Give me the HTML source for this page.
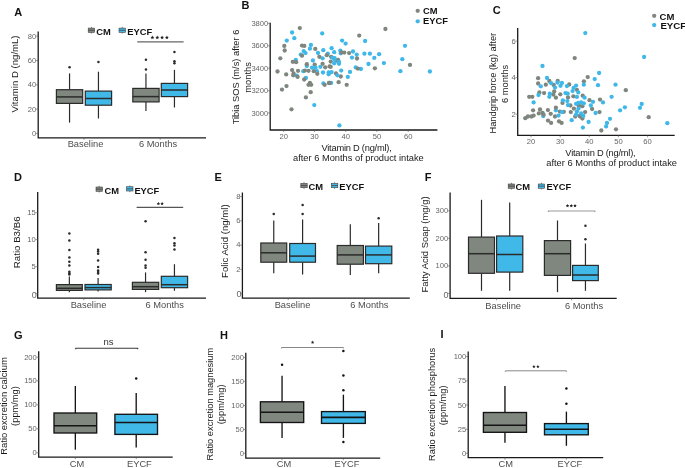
<!DOCTYPE html>
<html><head><meta charset="utf-8"><title>Figure</title>
<style>
html,body{margin:0;padding:0;background:#fff;}
body{width:685px;height:468px;overflow:hidden;}
svg{display:block;font-family:"Liberation Sans", sans-serif;}
#w{will-change:transform;width:685px;height:468px;}
</style></head><body>
<div id="w"><svg width="685" height="468" viewBox="0 0 685 468">
<rect width="685" height="468" fill="#fff"/>
<text x="14.2" y="16" font-size="11" fill="#111" text-anchor="start" font-weight="bold">A</text>
<line x1="91.4" y1="26.9" x2="91.4" y2="28.1" stroke="#444" stroke-width="0.7"/>
<line x1="91.4" y1="32.4" x2="91.4" y2="33.6" stroke="#444" stroke-width="0.7"/>
<rect x="88.2" y="28.1" width="6.4" height="4.3" fill="#7f877e" stroke="#444" stroke-width="0.6"/>
<line x1="88.2" y1="30.25" x2="94.6" y2="30.25" stroke="#444" stroke-width="0.8"/>
<text x="96.2" y="34.6" font-size="9.35" fill="#111" text-anchor="start" font-weight="bold">CM</text>
<line x1="122.2" y1="26.9" x2="122.2" y2="28.1" stroke="#444" stroke-width="0.7"/>
<line x1="122.2" y1="32.4" x2="122.2" y2="33.6" stroke="#444" stroke-width="0.7"/>
<rect x="119" y="28.1" width="6.4" height="4.3" fill="#40b9e8" stroke="#444" stroke-width="0.6"/>
<line x1="119" y1="30.25" x2="125.4" y2="30.25" stroke="#444" stroke-width="0.8"/>
<text x="127.2" y="34.6" font-size="9.35" fill="#111" text-anchor="start" font-weight="bold">EYCF</text>
<line x1="137.2" y1="41.9" x2="183.6" y2="41.9" stroke="#666" stroke-width="1.2"/>
<polygon points="152.4,35.6 152.93,36.87 154.3,36.98 153.26,37.88 153.58,39.22 152.4,38.5 151.22,39.22 151.54,37.88 150.5,36.98 151.87,36.87" fill="#222"/>
<polygon points="157.3,35.6 157.83,36.87 159.2,36.98 158.16,37.88 158.48,39.22 157.3,38.5 156.12,39.22 156.44,37.88 155.4,36.98 156.77,36.87" fill="#222"/>
<polygon points="162.1,35.6 162.63,36.87 164,36.98 162.96,37.88 163.28,39.22 162.1,38.5 160.92,39.22 161.24,37.88 160.2,36.98 161.57,36.87" fill="#222"/>
<polygon points="166.9,35.6 167.43,36.87 168.8,36.98 167.76,37.88 168.08,39.22 166.9,38.5 165.72,39.22 166.04,37.88 165,36.98 166.37,36.87" fill="#222"/>
<path d="M38.2 31.4V137.8H206" fill="none" stroke="#1a1a1a" stroke-width="1.3"/>
<line x1="36" y1="36.1" x2="38.2" y2="36.1" stroke="#555" stroke-width="0.6"/>
<text x="36.3" y="38.61" font-size="7.6" fill="#656565" text-anchor="end" font-weight="normal">80</text>
<line x1="36" y1="60.5" x2="38.2" y2="60.5" stroke="#555" stroke-width="0.6"/>
<text x="36.3" y="63.01" font-size="7.6" fill="#656565" text-anchor="end" font-weight="normal">60</text>
<line x1="36" y1="84.8" x2="38.2" y2="84.8" stroke="#555" stroke-width="0.6"/>
<text x="36.3" y="87.31" font-size="7.6" fill="#656565" text-anchor="end" font-weight="normal">40</text>
<line x1="36" y1="109.1" x2="38.2" y2="109.1" stroke="#555" stroke-width="0.6"/>
<text x="36.3" y="111.61" font-size="7.6" fill="#656565" text-anchor="end" font-weight="normal">20</text>
<line x1="36" y1="133.4" x2="38.2" y2="133.4" stroke="#555" stroke-width="0.6"/>
<text x="36.3" y="135.91" font-size="7.6" fill="#656565" text-anchor="end" font-weight="normal">0</text>
<line x1="84" y1="137.8" x2="84" y2="139.8" stroke="#555" stroke-width="0.6"/>
<line x1="160.2" y1="137.8" x2="160.2" y2="139.8" stroke="#555" stroke-width="0.6"/>
<line x1="69.55" y1="73.4" x2="69.55" y2="89.7" stroke="#2b2b2b" stroke-width="1.2"/>
<line x1="69.55" y1="103.4" x2="69.55" y2="122.6" stroke="#2b2b2b" stroke-width="1.2"/>
<rect x="56.4" y="89.7" width="26.3" height="13.7" fill="#7f877e" stroke="#2b2b2b" stroke-width="1.2"/>
<line x1="56.4" y1="96.9" x2="82.7" y2="96.9" stroke="#2b2b2b" stroke-width="1.5"/>
<circle cx="69.55" cy="67.3" r="1.25" fill="#2b2b2b"/>
<line x1="98.45" y1="71.7" x2="98.45" y2="91.1" stroke="#2b2b2b" stroke-width="1.2"/>
<line x1="98.45" y1="105.2" x2="98.45" y2="118.5" stroke="#2b2b2b" stroke-width="1.2"/>
<rect x="85.3" y="91.1" width="26.3" height="14.1" fill="#40b9e8" stroke="#2b2b2b" stroke-width="1.2"/>
<line x1="85.3" y1="98.5" x2="111.6" y2="98.5" stroke="#2b2b2b" stroke-width="1.5"/>
<circle cx="98.45" cy="62" r="1.25" fill="#2b2b2b"/>
<line x1="145.95" y1="73.4" x2="145.95" y2="88.4" stroke="#2b2b2b" stroke-width="1.2"/>
<line x1="145.95" y1="101.9" x2="145.95" y2="111" stroke="#2b2b2b" stroke-width="1.2"/>
<rect x="132.8" y="88.4" width="26.3" height="13.5" fill="#7f877e" stroke="#2b2b2b" stroke-width="1.2"/>
<line x1="132.8" y1="96.6" x2="159.1" y2="96.6" stroke="#2b2b2b" stroke-width="1.5"/>
<circle cx="145.95" cy="59.8" r="1.25" fill="#2b2b2b"/>
<circle cx="145.95" cy="69.4" r="1.25" fill="#2b2b2b"/>
<line x1="174.45" y1="69.9" x2="174.45" y2="83.4" stroke="#2b2b2b" stroke-width="1.2"/>
<line x1="174.45" y1="96.6" x2="174.45" y2="107.5" stroke="#2b2b2b" stroke-width="1.2"/>
<rect x="161.3" y="83.4" width="26.3" height="13.2" fill="#40b9e8" stroke="#2b2b2b" stroke-width="1.2"/>
<line x1="161.3" y1="90" x2="187.6" y2="90" stroke="#2b2b2b" stroke-width="1.5"/>
<circle cx="174.45" cy="52" r="1.25" fill="#2b2b2b"/>
<circle cx="174.45" cy="61.2" r="1.25" fill="#2b2b2b"/>
<circle cx="174.45" cy="63.2" r="1.25" fill="#2b2b2b"/>
<text x="85.5" y="147.1" font-size="9.3" fill="#4d4d4d" text-anchor="middle" font-weight="normal">Baseline</text>
<text x="158" y="147.1" font-size="9.3" fill="#4d4d4d" text-anchor="middle" font-weight="normal">6 Months</text>
<text transform="translate(18.2 74) rotate(-90)" font-size="9.6" fill="#1a1a1a" text-anchor="middle">Vitamin D (ng/mL)</text>
<text x="241.4" y="8.5" font-size="11" fill="#111" text-anchor="start" font-weight="bold">B</text>
<circle cx="292.1" cy="32.5" r="2.15" fill="#3fb8e9"/>
<circle cx="322.2" cy="33.4" r="2.15" fill="#3fb8e9"/>
<circle cx="294.3" cy="38.2" r="2.15" fill="#3fb8e9"/>
<circle cx="286.8" cy="40.6" r="2.15" fill="#3fb8e9"/>
<circle cx="310.9" cy="45" r="2.15" fill="#3fb8e9"/>
<circle cx="309.9" cy="48.7" r="2.15" fill="#3fb8e9"/>
<circle cx="303.7" cy="51.1" r="2.15" fill="#3fb8e9"/>
<circle cx="305.5" cy="53.1" r="2.15" fill="#3fb8e9"/>
<circle cx="300.8" cy="54.6" r="2.15" fill="#3fb8e9"/>
<circle cx="318" cy="53" r="2.15" fill="#3fb8e9"/>
<circle cx="323.3" cy="50.2" r="2.15" fill="#3fb8e9"/>
<circle cx="327.8" cy="53.7" r="2.15" fill="#3fb8e9"/>
<circle cx="322.6" cy="58.3" r="2.15" fill="#3fb8e9"/>
<circle cx="295.8" cy="59.9" r="2.15" fill="#3fb8e9"/>
<circle cx="312.9" cy="60.5" r="2.15" fill="#3fb8e9"/>
<circle cx="306.8" cy="66" r="2.15" fill="#3fb8e9"/>
<circle cx="320.4" cy="66.8" r="2.15" fill="#3fb8e9"/>
<circle cx="316.9" cy="71.2" r="2.15" fill="#3fb8e9"/>
<circle cx="323" cy="72.5" r="2.15" fill="#3fb8e9"/>
<circle cx="328.7" cy="72.5" r="2.15" fill="#3fb8e9"/>
<circle cx="328.7" cy="74.3" r="2.15" fill="#3fb8e9"/>
<circle cx="303.3" cy="71.2" r="2.15" fill="#3fb8e9"/>
<circle cx="296.7" cy="75.6" r="2.15" fill="#3fb8e9"/>
<circle cx="305.9" cy="78" r="2.15" fill="#3fb8e9"/>
<circle cx="323.4" cy="83.5" r="2.15" fill="#3fb8e9"/>
<circle cx="342.1" cy="40.6" r="2.15" fill="#3fb8e9"/>
<circle cx="345.6" cy="43.6" r="2.15" fill="#3fb8e9"/>
<circle cx="365.1" cy="41" r="2.15" fill="#3fb8e9"/>
<circle cx="331.6" cy="48.2" r="2.15" fill="#3fb8e9"/>
<circle cx="334.2" cy="52.2" r="2.15" fill="#3fb8e9"/>
<circle cx="340.3" cy="50.7" r="2.15" fill="#3fb8e9"/>
<circle cx="340.8" cy="53.3" r="2.15" fill="#3fb8e9"/>
<circle cx="353" cy="51.5" r="2.15" fill="#3fb8e9"/>
<circle cx="356.7" cy="54.6" r="2.15" fill="#3fb8e9"/>
<circle cx="364.4" cy="53.7" r="2.15" fill="#3fb8e9"/>
<circle cx="369.9" cy="53.7" r="2.15" fill="#3fb8e9"/>
<circle cx="379.1" cy="54.2" r="2.15" fill="#3fb8e9"/>
<circle cx="374.3" cy="57.9" r="2.15" fill="#3fb8e9"/>
<circle cx="352" cy="57.6" r="2.15" fill="#3fb8e9"/>
<circle cx="368.5" cy="64" r="2.15" fill="#3fb8e9"/>
<circle cx="383.9" cy="63.1" r="2.15" fill="#3fb8e9"/>
<circle cx="355.7" cy="67.4" r="2.15" fill="#3fb8e9"/>
<circle cx="360.9" cy="69" r="2.15" fill="#3fb8e9"/>
<circle cx="341.2" cy="70.6" r="2.15" fill="#3fb8e9"/>
<circle cx="350" cy="71.9" r="2.15" fill="#3fb8e9"/>
<circle cx="331.6" cy="72.1" r="2.15" fill="#3fb8e9"/>
<circle cx="347.8" cy="76.9" r="2.15" fill="#3fb8e9"/>
<circle cx="331.1" cy="82.9" r="2.15" fill="#3fb8e9"/>
<circle cx="405" cy="45.8" r="2.15" fill="#3fb8e9"/>
<circle cx="402.3" cy="59.2" r="2.15" fill="#3fb8e9"/>
<circle cx="400.4" cy="71.2" r="2.15" fill="#3fb8e9"/>
<circle cx="429.9" cy="71.5" r="2.15" fill="#3fb8e9"/>
<circle cx="314.3" cy="105.1" r="2.15" fill="#3fb8e9"/>
<circle cx="339.4" cy="125.4" r="2.15" fill="#3fb8e9"/>
<circle cx="299.8" cy="28.1" r="2.15" fill="#7e867e"/>
<circle cx="284.3" cy="45.9" r="2.15" fill="#7e867e"/>
<circle cx="284.7" cy="50.5" r="2.15" fill="#7e867e"/>
<circle cx="302" cy="45.6" r="2.15" fill="#7e867e"/>
<circle cx="304.3" cy="45.9" r="2.15" fill="#7e867e"/>
<circle cx="315.3" cy="48.9" r="2.15" fill="#7e867e"/>
<circle cx="302" cy="55.7" r="2.15" fill="#7e867e"/>
<circle cx="280.3" cy="58.3" r="2.15" fill="#7e867e"/>
<circle cx="319.4" cy="56.8" r="2.15" fill="#7e867e"/>
<circle cx="326.8" cy="55.2" r="2.15" fill="#7e867e"/>
<circle cx="292.8" cy="61.8" r="2.15" fill="#7e867e"/>
<circle cx="296.1" cy="62.2" r="2.15" fill="#7e867e"/>
<circle cx="306.8" cy="64.2" r="2.15" fill="#7e867e"/>
<circle cx="314.7" cy="64.6" r="2.15" fill="#7e867e"/>
<circle cx="322.6" cy="63.8" r="2.15" fill="#7e867e"/>
<circle cx="325.2" cy="67.3" r="2.15" fill="#7e867e"/>
<circle cx="329.6" cy="66.4" r="2.15" fill="#7e867e"/>
<circle cx="277.5" cy="71.5" r="2.15" fill="#7e867e"/>
<circle cx="286.2" cy="74.4" r="2.15" fill="#7e867e"/>
<circle cx="292.1" cy="70.1" r="2.15" fill="#7e867e"/>
<circle cx="293.6" cy="73.4" r="2.15" fill="#7e867e"/>
<circle cx="293.2" cy="75.3" r="2.15" fill="#7e867e"/>
<circle cx="298" cy="70.8" r="2.15" fill="#7e867e"/>
<circle cx="297.6" cy="76.9" r="2.15" fill="#7e867e"/>
<circle cx="304.9" cy="70.6" r="2.15" fill="#7e867e"/>
<circle cx="308.5" cy="70.8" r="2.15" fill="#7e867e"/>
<circle cx="313.8" cy="71.2" r="2.15" fill="#7e867e"/>
<circle cx="317.3" cy="73.8" r="2.15" fill="#7e867e"/>
<circle cx="304.2" cy="79.5" r="2.15" fill="#7e867e"/>
<circle cx="309.9" cy="83" r="2.15" fill="#7e867e"/>
<circle cx="308.5" cy="84.8" r="2.15" fill="#7e867e"/>
<circle cx="311.2" cy="84.8" r="2.15" fill="#7e867e"/>
<circle cx="324.7" cy="84.8" r="2.15" fill="#7e867e"/>
<circle cx="329.6" cy="83" r="2.15" fill="#7e867e"/>
<circle cx="286.5" cy="86.1" r="2.15" fill="#7e867e"/>
<circle cx="282" cy="89.6" r="2.15" fill="#7e867e"/>
<circle cx="310.7" cy="92.2" r="2.15" fill="#7e867e"/>
<circle cx="359.2" cy="35.6" r="2.15" fill="#7e867e"/>
<circle cx="385.4" cy="29" r="2.15" fill="#7e867e"/>
<circle cx="341.6" cy="52.4" r="2.15" fill="#7e867e"/>
<circle cx="344.3" cy="52.6" r="2.15" fill="#7e867e"/>
<circle cx="349.1" cy="53.1" r="2.15" fill="#7e867e"/>
<circle cx="357" cy="58.5" r="2.15" fill="#7e867e"/>
<circle cx="338.1" cy="59.9" r="2.15" fill="#7e867e"/>
<circle cx="331.1" cy="56.8" r="2.15" fill="#7e867e"/>
<circle cx="336.8" cy="60.7" r="2.15" fill="#7e867e"/>
<circle cx="330.7" cy="61.6" r="2.15" fill="#7e867e"/>
<circle cx="330.7" cy="66.8" r="2.15" fill="#7e867e"/>
<circle cx="357.8" cy="68.6" r="2.15" fill="#7e867e"/>
<circle cx="374.9" cy="68.3" r="2.15" fill="#7e867e"/>
<circle cx="336" cy="73.4" r="2.15" fill="#7e867e"/>
<circle cx="340.8" cy="76.5" r="2.15" fill="#7e867e"/>
<circle cx="338.6" cy="82.2" r="2.15" fill="#7e867e"/>
<circle cx="328.9" cy="83" r="2.15" fill="#7e867e"/>
<circle cx="346.7" cy="84.8" r="2.15" fill="#7e867e"/>
<circle cx="410" cy="64.9" r="2.15" fill="#7e867e"/>
<circle cx="305.9" cy="97.4" r="2.15" fill="#7e867e"/>
<circle cx="291.5" cy="109.3" r="2.15" fill="#7e867e"/>
<circle cx="332.4" cy="57.7" r="2.15" fill="#3fb8e9"/>
<circle cx="334.6" cy="58.1" r="2.15" fill="#3fb8e9"/>
<circle cx="334.6" cy="59.8" r="2.15" fill="#3fb8e9"/>
<circle cx="339" cy="62" r="2.15" fill="#3fb8e9"/>
<circle cx="334.2" cy="63.3" r="2.15" fill="#3fb8e9"/>
<circle cx="339" cy="63.8" r="2.15" fill="#3fb8e9"/>
<circle cx="337.3" cy="75.3" r="2.15" fill="#3fb8e9"/>
<circle cx="312" cy="67.7" r="2.15" fill="#3fb8e9"/>
<circle cx="315.5" cy="67.7" r="2.15" fill="#3fb8e9"/>
<path d="M270.2 22.8V130H437.4" fill="none" stroke="#1a1a1a" stroke-width="1.3"/>
<line x1="268" y1="23.3" x2="270.2" y2="23.3" stroke="#555" stroke-width="0.6"/>
<text x="268.3" y="25.81" font-size="7.6" fill="#656565" text-anchor="end" font-weight="normal">3800</text>
<line x1="268" y1="45.8" x2="270.2" y2="45.8" stroke="#555" stroke-width="0.6"/>
<text x="268.3" y="48.31" font-size="7.6" fill="#656565" text-anchor="end" font-weight="normal">3600</text>
<line x1="268" y1="68.2" x2="270.2" y2="68.2" stroke="#555" stroke-width="0.6"/>
<text x="268.3" y="70.71" font-size="7.6" fill="#656565" text-anchor="end" font-weight="normal">3400</text>
<line x1="268" y1="90.7" x2="270.2" y2="90.7" stroke="#555" stroke-width="0.6"/>
<text x="268.3" y="93.21" font-size="7.6" fill="#656565" text-anchor="end" font-weight="normal">3200</text>
<line x1="268" y1="113" x2="270.2" y2="113" stroke="#555" stroke-width="0.6"/>
<text x="268.3" y="115.51" font-size="7.6" fill="#656565" text-anchor="end" font-weight="normal">3000</text>
<line x1="283.7" y1="130" x2="283.7" y2="132" stroke="#555" stroke-width="0.6"/>
<text x="283.7" y="138.8" font-size="7.6" fill="#656565" text-anchor="middle" font-weight="normal">20</text>
<line x1="314.6" y1="130" x2="314.6" y2="132" stroke="#555" stroke-width="0.6"/>
<text x="314.6" y="138.8" font-size="7.6" fill="#656565" text-anchor="middle" font-weight="normal">30</text>
<line x1="345.8" y1="130" x2="345.8" y2="132" stroke="#555" stroke-width="0.6"/>
<text x="345.8" y="138.8" font-size="7.6" fill="#656565" text-anchor="middle" font-weight="normal">40</text>
<line x1="376.9" y1="130" x2="376.9" y2="132" stroke="#555" stroke-width="0.6"/>
<text x="376.9" y="138.8" font-size="7.6" fill="#656565" text-anchor="middle" font-weight="normal">50</text>
<line x1="408.2" y1="130" x2="408.2" y2="132" stroke="#555" stroke-width="0.6"/>
<text x="408.2" y="138.8" font-size="7.6" fill="#656565" text-anchor="middle" font-weight="normal">60</text>
<circle cx="417.7" cy="10.8" r="2.15" fill="#7e867e"/>
<circle cx="417.7" cy="21.3" r="2.15" fill="#3fb8e9"/>
<text x="423" y="14.4" font-size="9.35" fill="#111" text-anchor="start" font-weight="bold">CM</text>
<text x="423" y="23.9" font-size="9.35" fill="#111" text-anchor="start" font-weight="bold">EYCF</text>
<text x="356.5" y="150.9" font-size="9.3" fill="#1a1a1a" text-anchor="middle" font-weight="normal" letter-spacing="-0.23">Vitamin D (ng/ml),</text>
<text x="358.4" y="160.9" font-size="9.3" fill="#1a1a1a" text-anchor="middle" font-weight="normal">after 6 Months of product intake</text>
<text transform="translate(239 77) rotate(-90)" font-size="9.3" fill="#1a1a1a" text-anchor="middle">Tibia SOS (m/s) after 6</text>
<text transform="translate(250.6 77.4) rotate(-90)" font-size="9.3" fill="#1a1a1a" text-anchor="middle">months</text>
<text x="492.8" y="13.8" font-size="11" fill="#111" text-anchor="start" font-weight="bold">C</text>
<circle cx="543.2" cy="116" r="2.15" fill="#3fb8e9"/>
<circle cx="555.9" cy="110.3" r="2.15" fill="#3fb8e9"/>
<circle cx="574.7" cy="58.1" r="2.15" fill="#7e867e"/>
<circle cx="538.1" cy="78.2" r="2.15" fill="#7e867e"/>
<circle cx="538.1" cy="83.5" r="2.15" fill="#7e867e"/>
<circle cx="545.8" cy="84.7" r="2.15" fill="#7e867e"/>
<circle cx="549.3" cy="81" r="2.15" fill="#7e867e"/>
<circle cx="553.7" cy="85" r="2.15" fill="#7e867e"/>
<circle cx="557.7" cy="81" r="2.15" fill="#7e867e"/>
<circle cx="569.2" cy="84.5" r="2.15" fill="#7e867e"/>
<circle cx="576.9" cy="89.8" r="2.15" fill="#7e867e"/>
<circle cx="539.4" cy="92.4" r="2.15" fill="#7e867e"/>
<circle cx="544.1" cy="93.1" r="2.15" fill="#7e867e"/>
<circle cx="554.2" cy="91.5" r="2.15" fill="#7e867e"/>
<circle cx="553.3" cy="94.6" r="2.15" fill="#7e867e"/>
<circle cx="555.9" cy="97.7" r="2.15" fill="#7e867e"/>
<circle cx="560.3" cy="94.3" r="2.15" fill="#7e867e"/>
<circle cx="568" cy="97.5" r="2.15" fill="#7e867e"/>
<circle cx="573.4" cy="96.3" r="2.15" fill="#7e867e"/>
<circle cx="529.2" cy="96.8" r="2.15" fill="#7e867e"/>
<circle cx="532.3" cy="96.8" r="2.15" fill="#7e867e"/>
<circle cx="562.5" cy="102.9" r="2.15" fill="#7e867e"/>
<circle cx="533.1" cy="110.3" r="2.15" fill="#7e867e"/>
<circle cx="540" cy="109.5" r="2.15" fill="#7e867e"/>
<circle cx="538.8" cy="113.4" r="2.15" fill="#7e867e"/>
<circle cx="542.6" cy="113" r="2.15" fill="#7e867e"/>
<circle cx="543.6" cy="114.7" r="2.15" fill="#7e867e"/>
<circle cx="547.9" cy="110.1" r="2.15" fill="#7e867e"/>
<circle cx="550.7" cy="113.8" r="2.15" fill="#7e867e"/>
<circle cx="555.9" cy="107.7" r="2.15" fill="#7e867e"/>
<circle cx="555" cy="116.5" r="2.15" fill="#7e867e"/>
<circle cx="559.9" cy="111.6" r="2.15" fill="#7e867e"/>
<circle cx="563.8" cy="111.8" r="2.15" fill="#7e867e"/>
<circle cx="570.8" cy="112.1" r="2.15" fill="#7e867e"/>
<circle cx="570.4" cy="105.5" r="2.15" fill="#7e867e"/>
<circle cx="573.9" cy="108.6" r="2.15" fill="#7e867e"/>
<circle cx="575.2" cy="116.5" r="2.15" fill="#7e867e"/>
<circle cx="525.3" cy="118.2" r="2.15" fill="#7e867e"/>
<circle cx="527.9" cy="116.5" r="2.15" fill="#7e867e"/>
<circle cx="531.4" cy="116.5" r="2.15" fill="#7e867e"/>
<circle cx="533.6" cy="115.6" r="2.15" fill="#7e867e"/>
<circle cx="548" cy="120.6" r="2.15" fill="#7e867e"/>
<circle cx="551.1" cy="122.9" r="2.15" fill="#7e867e"/>
<circle cx="559" cy="121.3" r="2.15" fill="#7e867e"/>
<circle cx="561.6" cy="122.9" r="2.15" fill="#7e867e"/>
<circle cx="578.7" cy="105.5" r="2.15" fill="#7e867e"/>
<circle cx="579.6" cy="116" r="2.15" fill="#7e867e"/>
<circle cx="587.7" cy="77.1" r="2.15" fill="#7e867e"/>
<circle cx="583.9" cy="81.3" r="2.15" fill="#7e867e"/>
<circle cx="582.7" cy="95.7" r="2.15" fill="#7e867e"/>
<circle cx="589.5" cy="100.2" r="2.15" fill="#7e867e"/>
<circle cx="600" cy="99.6" r="2.15" fill="#7e867e"/>
<circle cx="625.8" cy="90.2" r="2.15" fill="#7e867e"/>
<circle cx="578.9" cy="106" r="2.15" fill="#7e867e"/>
<circle cx="582.4" cy="106.2" r="2.15" fill="#7e867e"/>
<circle cx="592.1" cy="109" r="2.15" fill="#7e867e"/>
<circle cx="585.1" cy="112.1" r="2.15" fill="#7e867e"/>
<circle cx="599.5" cy="112.1" r="2.15" fill="#7e867e"/>
<circle cx="580.3" cy="116.5" r="2.15" fill="#7e867e"/>
<circle cx="582.4" cy="118.6" r="2.15" fill="#7e867e"/>
<circle cx="601.3" cy="130.5" r="2.15" fill="#7e867e"/>
<circle cx="616" cy="129.3" r="2.15" fill="#7e867e"/>
<circle cx="648.7" cy="117.2" r="2.15" fill="#7e867e"/>
<circle cx="542.5" cy="66" r="2.15" fill="#3fb8e9"/>
<circle cx="547" cy="78" r="2.15" fill="#3fb8e9"/>
<circle cx="540.8" cy="86.3" r="2.15" fill="#3fb8e9"/>
<circle cx="551.1" cy="83.2" r="2.15" fill="#3fb8e9"/>
<circle cx="555" cy="87.6" r="2.15" fill="#3fb8e9"/>
<circle cx="557.5" cy="82.6" r="2.15" fill="#3fb8e9"/>
<circle cx="561.9" cy="83" r="2.15" fill="#3fb8e9"/>
<circle cx="560.5" cy="85.8" r="2.15" fill="#3fb8e9"/>
<circle cx="566.9" cy="86.1" r="2.15" fill="#3fb8e9"/>
<circle cx="576.1" cy="85.6" r="2.15" fill="#3fb8e9"/>
<circle cx="573.6" cy="87.9" r="2.15" fill="#3fb8e9"/>
<circle cx="572.6" cy="91.1" r="2.15" fill="#3fb8e9"/>
<circle cx="578.3" cy="92.4" r="2.15" fill="#3fb8e9"/>
<circle cx="576.9" cy="96.9" r="2.15" fill="#3fb8e9"/>
<circle cx="538.5" cy="95" r="2.15" fill="#3fb8e9"/>
<circle cx="549.8" cy="93.7" r="2.15" fill="#3fb8e9"/>
<circle cx="549.3" cy="96.8" r="2.15" fill="#3fb8e9"/>
<circle cx="565.5" cy="93.1" r="2.15" fill="#3fb8e9"/>
<circle cx="567.7" cy="93.7" r="2.15" fill="#3fb8e9"/>
<circle cx="562.9" cy="100.3" r="2.15" fill="#3fb8e9"/>
<circle cx="533.6" cy="102.4" r="2.15" fill="#3fb8e9"/>
<circle cx="567.3" cy="101.1" r="2.15" fill="#3fb8e9"/>
<circle cx="568" cy="105.1" r="2.15" fill="#3fb8e9"/>
<circle cx="576.1" cy="103.8" r="2.15" fill="#3fb8e9"/>
<circle cx="578.2" cy="102.9" r="2.15" fill="#3fb8e9"/>
<circle cx="576.9" cy="111.6" r="2.15" fill="#3fb8e9"/>
<circle cx="576.1" cy="114.7" r="2.15" fill="#3fb8e9"/>
<circle cx="571.7" cy="120.2" r="2.15" fill="#3fb8e9"/>
<circle cx="558.5" cy="115.6" r="2.15" fill="#3fb8e9"/>
<circle cx="562" cy="112.1" r="2.15" fill="#3fb8e9"/>
<circle cx="585.3" cy="33.1" r="2.15" fill="#3fb8e9"/>
<circle cx="599.1" cy="73" r="2.15" fill="#3fb8e9"/>
<circle cx="594.7" cy="79.1" r="2.15" fill="#3fb8e9"/>
<circle cx="583.8" cy="84.7" r="2.15" fill="#3fb8e9"/>
<circle cx="598" cy="85.2" r="2.15" fill="#3fb8e9"/>
<circle cx="615.5" cy="84.7" r="2.15" fill="#3fb8e9"/>
<circle cx="584.6" cy="97.7" r="2.15" fill="#3fb8e9"/>
<circle cx="611.6" cy="96.8" r="2.15" fill="#3fb8e9"/>
<circle cx="593" cy="101.8" r="2.15" fill="#3fb8e9"/>
<circle cx="603" cy="102.4" r="2.15" fill="#3fb8e9"/>
<circle cx="590.8" cy="105.5" r="2.15" fill="#3fb8e9"/>
<circle cx="581.1" cy="102.4" r="2.15" fill="#3fb8e9"/>
<circle cx="583.8" cy="103.3" r="2.15" fill="#3fb8e9"/>
<circle cx="578.5" cy="108.6" r="2.15" fill="#3fb8e9"/>
<circle cx="581.1" cy="113.4" r="2.15" fill="#3fb8e9"/>
<circle cx="583.3" cy="116" r="2.15" fill="#3fb8e9"/>
<circle cx="595.6" cy="113" r="2.15" fill="#3fb8e9"/>
<circle cx="620.1" cy="110.3" r="2.15" fill="#3fb8e9"/>
<circle cx="624.9" cy="107.3" r="2.15" fill="#3fb8e9"/>
<circle cx="610" cy="118.8" r="2.15" fill="#3fb8e9"/>
<circle cx="607" cy="123" r="2.15" fill="#3fb8e9"/>
<circle cx="606.1" cy="126.4" r="2.15" fill="#3fb8e9"/>
<circle cx="588.6" cy="122" r="2.15" fill="#3fb8e9"/>
<circle cx="582.9" cy="127.6" r="2.15" fill="#3fb8e9"/>
<circle cx="644.1" cy="57" r="2.15" fill="#3fb8e9"/>
<circle cx="641.7" cy="104" r="2.15" fill="#3fb8e9"/>
<circle cx="640" cy="107.8" r="2.15" fill="#3fb8e9"/>
<circle cx="667.3" cy="123.2" r="2.15" fill="#3fb8e9"/>
<path d="M517.7 28V135.3H674.7" fill="none" stroke="#1a1a1a" stroke-width="1.3"/>
<line x1="515.5" y1="41" x2="517.7" y2="41" stroke="#555" stroke-width="0.6"/>
<text x="515.8" y="43.51" font-size="7.6" fill="#656565" text-anchor="end" font-weight="normal">6</text>
<line x1="515.5" y1="77.6" x2="517.7" y2="77.6" stroke="#555" stroke-width="0.6"/>
<text x="515.8" y="80.11" font-size="7.6" fill="#656565" text-anchor="end" font-weight="normal">4</text>
<line x1="515.5" y1="114.2" x2="517.7" y2="114.2" stroke="#555" stroke-width="0.6"/>
<text x="515.8" y="116.71" font-size="7.6" fill="#656565" text-anchor="end" font-weight="normal">2</text>
<line x1="531" y1="135.3" x2="531" y2="137.3" stroke="#555" stroke-width="0.6"/>
<text x="531" y="144.3" font-size="7.6" fill="#656565" text-anchor="middle" font-weight="normal">20</text>
<line x1="560.2" y1="135.3" x2="560.2" y2="137.3" stroke="#555" stroke-width="0.6"/>
<text x="560.2" y="144.3" font-size="7.6" fill="#656565" text-anchor="middle" font-weight="normal">30</text>
<line x1="589.2" y1="135.3" x2="589.2" y2="137.3" stroke="#555" stroke-width="0.6"/>
<text x="589.2" y="144.3" font-size="7.6" fill="#656565" text-anchor="middle" font-weight="normal">40</text>
<line x1="618.4" y1="135.3" x2="618.4" y2="137.3" stroke="#555" stroke-width="0.6"/>
<text x="618.4" y="144.3" font-size="7.6" fill="#656565" text-anchor="middle" font-weight="normal">50</text>
<line x1="647.6" y1="135.3" x2="647.6" y2="137.3" stroke="#555" stroke-width="0.6"/>
<text x="647.6" y="144.3" font-size="7.6" fill="#656565" text-anchor="middle" font-weight="normal">60</text>
<circle cx="654.2" cy="15.8" r="2.15" fill="#7e867e"/>
<circle cx="654.2" cy="25.1" r="2.15" fill="#3fb8e9"/>
<text x="659.6" y="20.3" font-size="9.5" fill="#111" text-anchor="start" font-weight="bold">CM</text>
<text x="660.4" y="28.6" font-size="9.7" fill="#111" text-anchor="start" font-weight="bold">EYCF</text>
<text x="600.4" y="156.2" font-size="9.3" fill="#1a1a1a" text-anchor="middle" font-weight="normal" letter-spacing="-0.23">Vitamin D (ng/ml),</text>
<text x="611.6" y="166.1" font-size="9.3" fill="#1a1a1a" text-anchor="middle" font-weight="normal">after 6 Months of product intake</text>
<text transform="translate(496.2 83.2) rotate(-90)" font-size="9.3" fill="#1a1a1a" text-anchor="middle">Handgrip force (kg) after</text>
<text transform="translate(508.2 83.9) rotate(-90)" font-size="9.3" fill="#1a1a1a" text-anchor="middle">6 months</text>
<text x="14" y="181.1" font-size="11" fill="#111" text-anchor="start" font-weight="bold">D</text>
<line x1="99.2" y1="185.8" x2="99.2" y2="187" stroke="#444" stroke-width="0.7"/>
<line x1="99.2" y1="191.3" x2="99.2" y2="192.5" stroke="#444" stroke-width="0.7"/>
<rect x="96" y="187" width="6.4" height="4.3" fill="#7f877e" stroke="#444" stroke-width="0.6"/>
<line x1="96" y1="189.15" x2="102.4" y2="189.15" stroke="#444" stroke-width="0.8"/>
<text x="104.4" y="193.6" font-size="9.35" fill="#111" text-anchor="start" font-weight="bold">CM</text>
<line x1="129.8" y1="185.5" x2="129.8" y2="186.7" stroke="#444" stroke-width="0.7"/>
<line x1="129.8" y1="191" x2="129.8" y2="192.2" stroke="#444" stroke-width="0.7"/>
<rect x="126.6" y="186.7" width="6.4" height="4.3" fill="#40b9e8" stroke="#444" stroke-width="0.6"/>
<line x1="126.6" y1="188.85" x2="133" y2="188.85" stroke="#444" stroke-width="0.8"/>
<text x="134.4" y="193.6" font-size="9.35" fill="#111" text-anchor="start" font-weight="bold">EYCF</text>
<line x1="136.6" y1="207.4" x2="183.2" y2="207.4" stroke="#555" stroke-width="1.2"/>
<polygon points="158.4,201.7 158.9,202.91 160.21,203.01 159.21,203.86 159.52,205.14 158.4,204.45 157.28,205.14 157.59,203.86 156.59,203.01 157.9,202.91" fill="#222"/>
<polygon points="162.1,201.7 162.6,202.91 163.91,203.01 162.91,203.86 163.22,205.14 162.1,204.45 160.98,205.14 161.29,203.86 160.29,203.01 161.6,202.91" fill="#222"/>
<path d="M37.7 191.9V298.2H206" fill="none" stroke="#1a1a1a" stroke-width="1.3"/>
<line x1="35.5" y1="212.6" x2="37.7" y2="212.6" stroke="#555" stroke-width="0.6"/>
<text x="35.8" y="215.11" font-size="7.6" fill="#656565" text-anchor="end" font-weight="normal">15</text>
<line x1="35.5" y1="239.6" x2="37.7" y2="239.6" stroke="#555" stroke-width="0.6"/>
<text x="35.8" y="242.11" font-size="7.6" fill="#656565" text-anchor="end" font-weight="normal">10</text>
<line x1="35.5" y1="266.6" x2="37.7" y2="266.6" stroke="#555" stroke-width="0.6"/>
<text x="35.8" y="269.11" font-size="7.6" fill="#656565" text-anchor="end" font-weight="normal">5</text>
<text x="36.7" y="297.6" font-size="9" fill="#656565" text-anchor="end" font-weight="normal">0</text>
<line x1="35.5" y1="293.6" x2="37.7" y2="293.6" stroke="#555" stroke-width="0.6"/>
<line x1="69.35" y1="276.6" x2="69.35" y2="284.6" stroke="#2b2b2b" stroke-width="1.2"/>
<line x1="69.35" y1="290.4" x2="69.35" y2="292.3" stroke="#2b2b2b" stroke-width="1.2"/>
<rect x="56.4" y="284.6" width="25.9" height="5.8" fill="#7f877e" stroke="#2b2b2b" stroke-width="1.2"/>
<line x1="56.4" y1="288.3" x2="82.3" y2="288.3" stroke="#2b2b2b" stroke-width="1.5"/>
<circle cx="69.35" cy="233.5" r="1.25" fill="#2b2b2b"/>
<circle cx="69.35" cy="240.4" r="1.25" fill="#2b2b2b"/>
<circle cx="69.35" cy="250" r="1.25" fill="#2b2b2b"/>
<circle cx="69.35" cy="257.6" r="1.25" fill="#2b2b2b"/>
<circle cx="69.35" cy="261.7" r="1.25" fill="#2b2b2b"/>
<circle cx="69.35" cy="265.4" r="1.25" fill="#2b2b2b"/>
<circle cx="69.35" cy="271.7" r="1.25" fill="#2b2b2b"/>
<circle cx="69.35" cy="273.2" r="1.25" fill="#2b2b2b"/>
<circle cx="69.35" cy="274.4" r="1.25" fill="#2b2b2b"/>
<line x1="98.1" y1="278.1" x2="98.1" y2="284.5" stroke="#2b2b2b" stroke-width="1.2"/>
<line x1="98.1" y1="289.9" x2="98.1" y2="291.6" stroke="#2b2b2b" stroke-width="1.2"/>
<rect x="85" y="284.5" width="26.2" height="5.4" fill="#40b9e8" stroke="#2b2b2b" stroke-width="1.2"/>
<line x1="85" y1="287.6" x2="111.2" y2="287.6" stroke="#2b2b2b" stroke-width="1.5"/>
<circle cx="98.1" cy="249.7" r="1.25" fill="#2b2b2b"/>
<circle cx="98.1" cy="251.6" r="1.25" fill="#2b2b2b"/>
<circle cx="98.1" cy="253.7" r="1.25" fill="#2b2b2b"/>
<circle cx="98.1" cy="260.6" r="1.25" fill="#2b2b2b"/>
<circle cx="98.1" cy="266.9" r="1.25" fill="#2b2b2b"/>
<circle cx="98.1" cy="270.6" r="1.25" fill="#2b2b2b"/>
<circle cx="98.1" cy="272.1" r="1.25" fill="#2b2b2b"/>
<circle cx="98.1" cy="273.6" r="1.25" fill="#2b2b2b"/>
<line x1="145.55" y1="272.4" x2="145.55" y2="282.3" stroke="#2b2b2b" stroke-width="1.2"/>
<line x1="145.55" y1="289.4" x2="145.55" y2="292.2" stroke="#2b2b2b" stroke-width="1.2"/>
<rect x="132.4" y="282.3" width="26.3" height="7.1" fill="#7f877e" stroke="#2b2b2b" stroke-width="1.2"/>
<line x1="132.4" y1="286.7" x2="158.7" y2="286.7" stroke="#2b2b2b" stroke-width="1.5"/>
<circle cx="145.55" cy="221.2" r="1.25" fill="#2b2b2b"/>
<circle cx="145.55" cy="252.3" r="1.25" fill="#2b2b2b"/>
<circle cx="145.55" cy="259.8" r="1.25" fill="#2b2b2b"/>
<circle cx="145.55" cy="265.4" r="1.25" fill="#2b2b2b"/>
<circle cx="145.55" cy="267.7" r="1.25" fill="#2b2b2b"/>
<line x1="174.45" y1="264.2" x2="174.45" y2="276.3" stroke="#2b2b2b" stroke-width="1.2"/>
<line x1="174.45" y1="287.7" x2="174.45" y2="290.8" stroke="#2b2b2b" stroke-width="1.2"/>
<rect x="161.3" y="276.3" width="26.3" height="11.4" fill="#40b9e8" stroke="#2b2b2b" stroke-width="1.2"/>
<line x1="161.3" y1="284.7" x2="187.6" y2="284.7" stroke="#2b2b2b" stroke-width="1.5"/>
<circle cx="174.45" cy="238" r="1.25" fill="#2b2b2b"/>
<circle cx="174.45" cy="243.2" r="1.25" fill="#2b2b2b"/>
<circle cx="174.45" cy="245.6" r="1.25" fill="#2b2b2b"/>
<circle cx="174.45" cy="249.6" r="1.25" fill="#2b2b2b"/>
<line x1="83.8" y1="298.2" x2="83.8" y2="300.2" stroke="#555" stroke-width="0.6"/>
<line x1="160" y1="298.2" x2="160" y2="300.2" stroke="#555" stroke-width="0.6"/>
<text x="88.5" y="307.7" font-size="9.3" fill="#4d4d4d" text-anchor="middle" font-weight="normal">Baseline</text>
<text x="164.7" y="307.7" font-size="9.3" fill="#4d4d4d" text-anchor="middle" font-weight="normal">6 Months</text>
<text transform="translate(20.4 242.3) rotate(-90)" font-size="9.7" fill="#1a1a1a" text-anchor="middle">Ratio B3/B6</text>
<text x="214.6" y="181" font-size="11" fill="#111" text-anchor="start" font-weight="bold">E</text>
<line x1="304" y1="182.2" x2="304" y2="183.4" stroke="#444" stroke-width="0.7"/>
<line x1="304" y1="187.7" x2="304" y2="188.9" stroke="#444" stroke-width="0.7"/>
<rect x="300.8" y="183.4" width="6.4" height="4.3" fill="#7f877e" stroke="#444" stroke-width="0.6"/>
<line x1="300.8" y1="185.55" x2="307.2" y2="185.55" stroke="#444" stroke-width="0.8"/>
<text x="308.5" y="189.5" font-size="9.35" fill="#111" text-anchor="start" font-weight="bold">CM</text>
<line x1="334.6" y1="182.2" x2="334.6" y2="183.4" stroke="#444" stroke-width="0.7"/>
<line x1="334.6" y1="187.7" x2="334.6" y2="188.9" stroke="#444" stroke-width="0.7"/>
<rect x="331.4" y="183.4" width="6.4" height="4.3" fill="#40b9e8" stroke="#444" stroke-width="0.6"/>
<line x1="331.4" y1="185.55" x2="337.8" y2="185.55" stroke="#444" stroke-width="0.8"/>
<text x="339.2" y="189.5" font-size="9.35" fill="#111" text-anchor="start" font-weight="bold">EYCF</text>
<path d="M242.4 192.4V298.2H409.8" fill="none" stroke="#1a1a1a" stroke-width="1.3"/>
<line x1="240.2" y1="196.5" x2="242.4" y2="196.5" stroke="#555" stroke-width="0.6"/>
<text x="240.5" y="198.61" font-size="7.6" fill="#656565" text-anchor="end" font-weight="normal">8</text>
<line x1="240.2" y1="220.8" x2="242.4" y2="220.8" stroke="#555" stroke-width="0.6"/>
<text x="240.5" y="222.91" font-size="7.6" fill="#656565" text-anchor="end" font-weight="normal">6</text>
<line x1="240.2" y1="245.1" x2="242.4" y2="245.1" stroke="#555" stroke-width="0.6"/>
<text x="240.5" y="247.21" font-size="7.6" fill="#656565" text-anchor="end" font-weight="normal">4</text>
<line x1="240.2" y1="269.4" x2="242.4" y2="269.4" stroke="#555" stroke-width="0.6"/>
<text x="240.5" y="271.51" font-size="7.6" fill="#656565" text-anchor="end" font-weight="normal">2</text>
<text x="241.4" y="297.2" font-size="9" fill="#656565" text-anchor="end" font-weight="normal">0</text>
<line x1="240.2" y1="293.7" x2="242.4" y2="293.7" stroke="#555" stroke-width="0.6"/>
<line x1="273.75" y1="220.5" x2="273.75" y2="243" stroke="#2b2b2b" stroke-width="1.2"/>
<line x1="273.75" y1="262.2" x2="273.75" y2="273.3" stroke="#2b2b2b" stroke-width="1.2"/>
<rect x="260.8" y="243" width="25.9" height="19.2" fill="#7f877e" stroke="#2b2b2b" stroke-width="1.2"/>
<line x1="260.8" y1="252.8" x2="286.7" y2="252.8" stroke="#2b2b2b" stroke-width="1.5"/>
<circle cx="273.75" cy="214.1" r="1.25" fill="#2b2b2b"/>
<line x1="302.6" y1="219.6" x2="302.6" y2="243.5" stroke="#2b2b2b" stroke-width="1.2"/>
<line x1="302.6" y1="262.2" x2="302.6" y2="274.5" stroke="#2b2b2b" stroke-width="1.2"/>
<rect x="289.7" y="243.5" width="25.8" height="18.7" fill="#40b9e8" stroke="#2b2b2b" stroke-width="1.2"/>
<line x1="289.7" y1="256.1" x2="315.5" y2="256.1" stroke="#2b2b2b" stroke-width="1.5"/>
<circle cx="302.6" cy="205" r="1.25" fill="#2b2b2b"/>
<circle cx="302.6" cy="214.1" r="1.25" fill="#2b2b2b"/>
<line x1="350.3" y1="224.3" x2="350.3" y2="245.5" stroke="#2b2b2b" stroke-width="1.2"/>
<line x1="350.3" y1="264.2" x2="350.3" y2="275" stroke="#2b2b2b" stroke-width="1.2"/>
<rect x="337.2" y="245.5" width="26.2" height="18.7" fill="#7f877e" stroke="#2b2b2b" stroke-width="1.2"/>
<line x1="337.2" y1="254.9" x2="363.4" y2="254.9" stroke="#2b2b2b" stroke-width="1.5"/>
<line x1="378.65" y1="223.1" x2="378.65" y2="246.1" stroke="#2b2b2b" stroke-width="1.2"/>
<line x1="378.65" y1="263.7" x2="378.65" y2="273.3" stroke="#2b2b2b" stroke-width="1.2"/>
<rect x="365.5" y="246.1" width="26.3" height="17.6" fill="#40b9e8" stroke="#2b2b2b" stroke-width="1.2"/>
<line x1="365.5" y1="254.9" x2="391.8" y2="254.9" stroke="#2b2b2b" stroke-width="1.5"/>
<circle cx="378.65" cy="218.2" r="1.25" fill="#2b2b2b"/>
<line x1="288.2" y1="298.2" x2="288.2" y2="300.2" stroke="#555" stroke-width="0.6"/>
<line x1="364.5" y1="298.2" x2="364.5" y2="300.2" stroke="#555" stroke-width="0.6"/>
<text x="292.5" y="308.3" font-size="9.3" fill="#4d4d4d" text-anchor="middle" font-weight="normal">Baseline</text>
<text x="369.4" y="308.3" font-size="9.3" fill="#4d4d4d" text-anchor="middle" font-weight="normal">6 Months</text>
<text transform="translate(227.6 241.2) rotate(-90)" font-size="9.6" fill="#1a1a1a" text-anchor="middle">Folic Acid (ng/ml)</text>
<text x="424.8" y="181" font-size="11" fill="#111" text-anchor="start" font-weight="bold">F</text>
<line x1="511.4" y1="182.8" x2="511.4" y2="184" stroke="#444" stroke-width="0.7"/>
<line x1="511.4" y1="188.3" x2="511.4" y2="189.5" stroke="#444" stroke-width="0.7"/>
<rect x="508.2" y="184" width="6.4" height="4.3" fill="#7f877e" stroke="#444" stroke-width="0.6"/>
<line x1="508.2" y1="186.15" x2="514.6" y2="186.15" stroke="#444" stroke-width="0.8"/>
<text x="515.6" y="190" font-size="9.35" fill="#111" text-anchor="start" font-weight="bold">CM</text>
<line x1="541.4" y1="182.8" x2="541.4" y2="184" stroke="#444" stroke-width="0.7"/>
<line x1="541.4" y1="188.3" x2="541.4" y2="189.5" stroke="#444" stroke-width="0.7"/>
<rect x="538.2" y="184" width="6.4" height="4.3" fill="#40b9e8" stroke="#444" stroke-width="0.6"/>
<line x1="538.2" y1="186.15" x2="544.6" y2="186.15" stroke="#444" stroke-width="0.8"/>
<text x="546.4" y="190" font-size="9.35" fill="#111" text-anchor="start" font-weight="bold">EYCF</text>
<path d="M548.4 212V211H594.8V212" fill="none" stroke="#999" stroke-width="1.2"/>
<polygon points="567.5,203.9 568,205.11 569.31,205.21 568.31,206.06 568.62,207.34 567.5,206.66 566.38,207.34 566.69,206.06 565.69,205.21 567,205.11" fill="#222"/>
<polygon points="571.3,203.9 571.8,205.11 573.11,205.21 572.11,206.06 572.42,207.34 571.3,206.66 570.18,207.34 570.49,206.06 569.49,205.21 570.8,205.11" fill="#222"/>
<polygon points="575,203.9 575.5,205.11 576.81,205.21 575.81,206.06 576.12,207.34 575,206.66 573.88,207.34 574.19,206.06 573.19,205.21 574.5,205.11" fill="#222"/>
<path d="M450.1 192.4V298.3H616.7" fill="none" stroke="#1a1a1a" stroke-width="1.3"/>
<line x1="447.9" y1="210.8" x2="450.1" y2="210.8" stroke="#555" stroke-width="0.6"/>
<text x="448.2" y="213.31" font-size="7.6" fill="#656565" text-anchor="end" font-weight="normal">300</text>
<line x1="447.9" y1="238.3" x2="450.1" y2="238.3" stroke="#555" stroke-width="0.6"/>
<text x="448.2" y="240.81" font-size="7.6" fill="#656565" text-anchor="end" font-weight="normal">200</text>
<line x1="447.9" y1="265.9" x2="450.1" y2="265.9" stroke="#555" stroke-width="0.6"/>
<text x="448.2" y="268.41" font-size="7.6" fill="#656565" text-anchor="end" font-weight="normal">100</text>
<text x="448.4" y="297.6" font-size="9" fill="#656565" text-anchor="end" font-weight="normal">0</text>
<line x1="447.9" y1="293.4" x2="450.1" y2="293.4" stroke="#555" stroke-width="0.6"/>
<line x1="481.5" y1="199.8" x2="481.5" y2="237.1" stroke="#2b2b2b" stroke-width="1.2"/>
<line x1="481.5" y1="273.3" x2="481.5" y2="290.8" stroke="#2b2b2b" stroke-width="1.2"/>
<rect x="468.5" y="237.1" width="26" height="36.2" fill="#7f877e" stroke="#2b2b2b" stroke-width="1.2"/>
<line x1="468.5" y1="253.7" x2="494.5" y2="253.7" stroke="#2b2b2b" stroke-width="1.5"/>
<line x1="509.7" y1="202.4" x2="509.7" y2="236" stroke="#2b2b2b" stroke-width="1.2"/>
<line x1="509.7" y1="272.1" x2="509.7" y2="290.8" stroke="#2b2b2b" stroke-width="1.2"/>
<rect x="496.6" y="236" width="26.2" height="36.1" fill="#40b9e8" stroke="#2b2b2b" stroke-width="1.2"/>
<line x1="496.6" y1="254.5" x2="522.8" y2="254.5" stroke="#2b2b2b" stroke-width="1.5"/>
<line x1="557.5" y1="220.5" x2="557.5" y2="240.6" stroke="#2b2b2b" stroke-width="1.2"/>
<line x1="557.5" y1="275.4" x2="557.5" y2="292.2" stroke="#2b2b2b" stroke-width="1.2"/>
<rect x="544.4" y="240.6" width="26.2" height="34.8" fill="#7f877e" stroke="#2b2b2b" stroke-width="1.2"/>
<line x1="544.4" y1="253.7" x2="570.6" y2="253.7" stroke="#2b2b2b" stroke-width="1.5"/>
<line x1="585.45" y1="243.5" x2="585.45" y2="265.4" stroke="#2b2b2b" stroke-width="1.2"/>
<line x1="585.45" y1="280.6" x2="585.45" y2="290.8" stroke="#2b2b2b" stroke-width="1.2"/>
<rect x="572.6" y="265.4" width="25.7" height="15.2" fill="#40b9e8" stroke="#2b2b2b" stroke-width="1.2"/>
<line x1="572.6" y1="275" x2="598.3" y2="275" stroke="#2b2b2b" stroke-width="1.5"/>
<circle cx="585.45" cy="225.7" r="1.25" fill="#2b2b2b"/>
<circle cx="585.45" cy="239.2" r="1.25" fill="#2b2b2b"/>
<line x1="496.5" y1="298.3" x2="496.5" y2="300.3" stroke="#555" stroke-width="0.6"/>
<line x1="571.5" y1="298.3" x2="571.5" y2="300.3" stroke="#555" stroke-width="0.6"/>
<text x="503.2" y="308.7" font-size="9.3" fill="#4d4d4d" text-anchor="middle" font-weight="normal">Baseline</text>
<text x="584" y="308.7" font-size="9.3" fill="#4d4d4d" text-anchor="middle" font-weight="normal">6 Months</text>
<text transform="translate(427.8 244.4) rotate(-90)" font-size="9.45" fill="#1a1a1a" text-anchor="middle">Fatty Acid Soap (mg/g)</text>
<text x="14" y="338.5" font-size="11" fill="#111" text-anchor="start" font-weight="bold">G</text>
<path d="M75.7 349.2V348.2H137.7V349.2" fill="none" stroke="#3a3a3a" stroke-width="1.1"/>
<text x="108.6" y="345" font-size="9.5" fill="#333" text-anchor="middle" font-weight="normal">ns</text>
<path d="M38.7 351.3V457.2H172.7" fill="none" stroke="#1a1a1a" stroke-width="1.3"/>
<line x1="36.5" y1="357.1" x2="38.7" y2="357.1" stroke="#555" stroke-width="0.6"/>
<text x="36.8" y="359.61" font-size="7.6" fill="#656565" text-anchor="end" font-weight="normal">200</text>
<line x1="36.5" y1="380.9" x2="38.7" y2="380.9" stroke="#555" stroke-width="0.6"/>
<text x="36.8" y="383.41" font-size="7.6" fill="#656565" text-anchor="end" font-weight="normal">150</text>
<line x1="36.5" y1="404.9" x2="38.7" y2="404.9" stroke="#555" stroke-width="0.6"/>
<text x="36.8" y="407.41" font-size="7.6" fill="#656565" text-anchor="end" font-weight="normal">100</text>
<line x1="36.5" y1="428.8" x2="38.7" y2="428.8" stroke="#555" stroke-width="0.6"/>
<text x="36.8" y="431.31" font-size="7.6" fill="#656565" text-anchor="end" font-weight="normal">50</text>
<line x1="36.5" y1="452.8" x2="38.7" y2="452.8" stroke="#555" stroke-width="0.6"/>
<text x="36.8" y="455.31" font-size="7.6" fill="#656565" text-anchor="end" font-weight="normal">0</text>
<line x1="75.35" y1="386" x2="75.35" y2="413" stroke="#141414" stroke-width="1.35"/>
<line x1="75.35" y1="433" x2="75.35" y2="449.7" stroke="#141414" stroke-width="1.35"/>
<rect x="54" y="413" width="42.7" height="20" fill="#7f877e" stroke="#141414" stroke-width="1.35"/>
<line x1="54" y1="425.7" x2="96.7" y2="425.7" stroke="#141414" stroke-width="1.6"/>
<line x1="136.2" y1="393" x2="136.2" y2="414.3" stroke="#141414" stroke-width="1.35"/>
<line x1="136.2" y1="434.4" x2="136.2" y2="447.6" stroke="#141414" stroke-width="1.35"/>
<rect x="114.9" y="414.3" width="42.6" height="20.1" fill="#40b9e8" stroke="#141414" stroke-width="1.35"/>
<line x1="114.9" y1="422.5" x2="157.5" y2="422.5" stroke="#141414" stroke-width="1.6"/>
<circle cx="136.2" cy="378.4" r="1.25" fill="#141414"/>
<line x1="75.3" y1="457.2" x2="75.3" y2="459.2" stroke="#555" stroke-width="0.6"/>
<line x1="136.3" y1="457.2" x2="136.3" y2="459.2" stroke="#555" stroke-width="0.6"/>
<text x="77.1" y="467.4" font-size="9.3" fill="#4d4d4d" text-anchor="middle" font-weight="normal">CM</text>
<text x="139.4" y="467.4" font-size="9.3" fill="#4d4d4d" text-anchor="middle" font-weight="normal">EYCF</text>
<text transform="translate(6.9 406) rotate(-90)" font-size="9.45" fill="#1a1a1a" text-anchor="middle">Ratio excretion calcium</text>
<text transform="translate(18.3 406) rotate(-90)" font-size="9.3" fill="#1a1a1a" text-anchor="middle">(ppm/mg)</text>
<text x="220" y="338.5" font-size="11" fill="#111" text-anchor="start" font-weight="bold">H</text>
<path d="M281.5 348.5V347.5H343.4V348.5" fill="none" stroke="#888" stroke-width="1"/>
<polygon points="312.6,340.6 313.08,341.74 314.31,341.84 313.37,342.65 313.66,343.86 312.6,343.21 311.54,343.86 311.83,342.65 310.89,341.84 312.12,341.74" fill="#222"/>
<path d="M245.8 352.7V458.1H380.2" fill="none" stroke="#1a1a1a" stroke-width="1.3"/>
<line x1="243.6" y1="357.4" x2="245.8" y2="357.4" stroke="#555" stroke-width="0.6"/>
<text x="243.9" y="359.91" font-size="7.6" fill="#656565" text-anchor="end" font-weight="normal">200</text>
<line x1="243.6" y1="381.4" x2="245.8" y2="381.4" stroke="#555" stroke-width="0.6"/>
<text x="243.9" y="383.91" font-size="7.6" fill="#656565" text-anchor="end" font-weight="normal">150</text>
<line x1="243.6" y1="405.5" x2="245.8" y2="405.5" stroke="#555" stroke-width="0.6"/>
<text x="243.9" y="408.01" font-size="7.6" fill="#656565" text-anchor="end" font-weight="normal">100</text>
<line x1="243.6" y1="429.5" x2="245.8" y2="429.5" stroke="#555" stroke-width="0.6"/>
<text x="243.9" y="432.01" font-size="7.6" fill="#656565" text-anchor="end" font-weight="normal">50</text>
<line x1="243.6" y1="453.3" x2="245.8" y2="453.3" stroke="#555" stroke-width="0.6"/>
<text x="243.9" y="455.81" font-size="7.6" fill="#656565" text-anchor="end" font-weight="normal">0</text>
<line x1="282.05" y1="375.8" x2="282.05" y2="401.8" stroke="#141414" stroke-width="1.35"/>
<line x1="282.05" y1="422.5" x2="282.05" y2="437.9" stroke="#141414" stroke-width="1.35"/>
<rect x="260.4" y="401.8" width="43.3" height="20.7" fill="#7f877e" stroke="#141414" stroke-width="1.35"/>
<line x1="260.4" y1="412.2" x2="303.7" y2="412.2" stroke="#141414" stroke-width="1.6"/>
<circle cx="282.05" cy="364.8" r="1.25" fill="#141414"/>
<line x1="343.4" y1="394.7" x2="343.4" y2="411.6" stroke="#141414" stroke-width="1.35"/>
<line x1="343.4" y1="423.4" x2="343.4" y2="437.9" stroke="#141414" stroke-width="1.35"/>
<rect x="321.5" y="411.6" width="43.8" height="11.8" fill="#40b9e8" stroke="#141414" stroke-width="1.35"/>
<line x1="321.5" y1="417.4" x2="365.3" y2="417.4" stroke="#141414" stroke-width="1.6"/>
<circle cx="343.4" cy="350.9" r="1.25" fill="#141414"/>
<circle cx="343.4" cy="375.5" r="1.25" fill="#141414"/>
<circle cx="343.4" cy="390.3" r="1.25" fill="#141414"/>
<circle cx="343.4" cy="442" r="1.25" fill="#141414"/>
<line x1="282" y1="458.1" x2="282" y2="460.1" stroke="#555" stroke-width="0.6"/>
<line x1="343.4" y1="458.1" x2="343.4" y2="460.1" stroke="#555" stroke-width="0.6"/>
<text x="284.1" y="467.4" font-size="9.3" fill="#4d4d4d" text-anchor="middle" font-weight="normal">CM</text>
<text x="347" y="467.4" font-size="9.3" fill="#4d4d4d" text-anchor="middle" font-weight="normal">EYCF</text>
<text transform="translate(213.1 404.1) rotate(-90)" font-size="9.3" fill="#1a1a1a" text-anchor="middle">Ratio excretion magnesium</text>
<text transform="translate(224.4 404.4) rotate(-90)" font-size="9.3" fill="#1a1a1a" text-anchor="middle">(ppm/mg)</text>
<text x="440.6" y="338.2" font-size="11" fill="#111" text-anchor="start" font-weight="bold">I</text>
<path d="M505.3 371.8V370.8H566.4V371.8" fill="none" stroke="#888" stroke-width="1"/>
<polygon points="533.9,364.8 534.38,365.94 535.61,366.04 534.67,366.85 534.96,368.06 533.9,367.41 532.84,368.06 533.13,366.85 532.19,366.04 533.42,365.94" fill="#222"/>
<polygon points="537.9,364.8 538.38,365.94 539.61,366.04 538.67,366.85 538.96,368.06 537.9,367.41 536.84,368.06 537.13,366.85 536.19,366.04 537.42,365.94" fill="#222"/>
<path d="M468.2 351.6V457.7H603.2" fill="none" stroke="#1a1a1a" stroke-width="1.3"/>
<line x1="466" y1="356.5" x2="468.2" y2="356.5" stroke="#555" stroke-width="0.6"/>
<text x="466.3" y="359.01" font-size="7.6" fill="#656565" text-anchor="end" font-weight="normal">100</text>
<line x1="466" y1="380.8" x2="468.2" y2="380.8" stroke="#555" stroke-width="0.6"/>
<text x="466.3" y="383.31" font-size="7.6" fill="#656565" text-anchor="end" font-weight="normal">75</text>
<line x1="466" y1="405" x2="468.2" y2="405" stroke="#555" stroke-width="0.6"/>
<text x="466.3" y="407.51" font-size="7.6" fill="#656565" text-anchor="end" font-weight="normal">50</text>
<line x1="466" y1="429.2" x2="468.2" y2="429.2" stroke="#555" stroke-width="0.6"/>
<text x="466.3" y="431.71" font-size="7.6" fill="#656565" text-anchor="end" font-weight="normal">25</text>
<line x1="466" y1="453.3" x2="468.2" y2="453.3" stroke="#555" stroke-width="0.6"/>
<text x="466.3" y="455.81" font-size="7.6" fill="#656565" text-anchor="end" font-weight="normal">0</text>
<line x1="504.95" y1="386" x2="504.95" y2="412.5" stroke="#141414" stroke-width="1.35"/>
<line x1="504.95" y1="432.3" x2="504.95" y2="442.7" stroke="#141414" stroke-width="1.35"/>
<rect x="483.4" y="412.5" width="43.1" height="19.8" fill="#7f877e" stroke="#141414" stroke-width="1.35"/>
<line x1="483.4" y1="425.3" x2="526.5" y2="425.3" stroke="#141414" stroke-width="1.6"/>
<line x1="566.4" y1="411.6" x2="566.4" y2="423.6" stroke="#141414" stroke-width="1.35"/>
<line x1="566.4" y1="434.8" x2="566.4" y2="445.8" stroke="#141414" stroke-width="1.35"/>
<rect x="544.5" y="423.6" width="43.8" height="11.2" fill="#40b9e8" stroke="#141414" stroke-width="1.35"/>
<line x1="544.5" y1="429.2" x2="588.3" y2="429.2" stroke="#141414" stroke-width="1.6"/>
<circle cx="566.4" cy="388.6" r="1.25" fill="#141414"/>
<circle cx="566.4" cy="403.8" r="1.25" fill="#141414"/>
<line x1="505" y1="457.7" x2="505" y2="459.7" stroke="#555" stroke-width="0.6"/>
<line x1="566.4" y1="457.7" x2="566.4" y2="459.7" stroke="#555" stroke-width="0.6"/>
<text x="505.8" y="467.4" font-size="9.3" fill="#4d4d4d" text-anchor="middle" font-weight="normal">CM</text>
<text x="569.9" y="467.4" font-size="9.3" fill="#4d4d4d" text-anchor="middle" font-weight="normal">EYCF</text>
<text transform="translate(434.8 404.4) rotate(-90)" font-size="9.3" fill="#1a1a1a" text-anchor="middle">Ratio excretion phosphorus</text>
<text transform="translate(446 405.4) rotate(-90)" font-size="9.3" fill="#1a1a1a" text-anchor="middle">(ppm/mg)</text>
</svg></div>
</body></html>
